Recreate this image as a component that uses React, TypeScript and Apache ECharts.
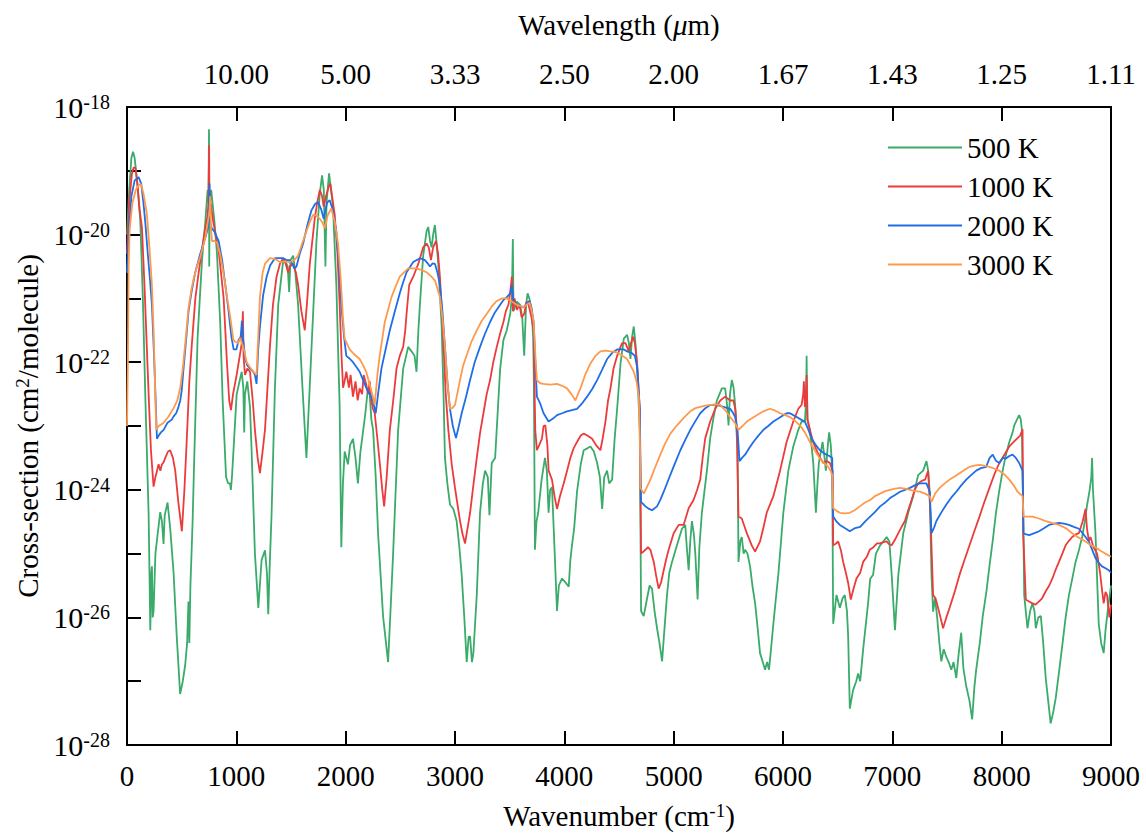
import React, { useEffect, useRef } from "react";
import * as echarts from "echarts";

// Series names and colours
const seriesNames = ["500 K", "1000 K", "2000 K", "3000 K"];
const seriesColors = ["#3aab6a", "#ec3b3b", "#1f6ee6", "#ff9a4d"];

// Top axis: wavelength (µm) labels at wavenumber positions
const topTickWavenumbers = [1000, 2000, 3000, 4000, 5000, 6000, 7000, 8000, 9000];
const topTickLabels = ["10.00", "5.00", "3.33", "2.50", "2.00", "1.67", "1.43", "1.25", "1.11"];

// y range as exponents of 10 (cm2/molecule); labelled every second decade
const yExpMin = -28;
const yExpMax = -18;

// Data: [wavenumber (cm-1), log10 cross-section (cm2/molecule)]
const k500: number[][] = [
  [0,-20.0],[20,-19.3],[40,-18.8],[55,-18.7],[70,-18.8],[95,-19.2],[122,-19.8],[145,-21.0],[167,-22.5],[185,-23.6],[198,-24.4],[213,-26.2],[222,-25.3],[228,-25.2],[235,-26.0],[243,-25.9],[260,-25.0],[280,-24.7],[304,-24.35],[320,-24.5],[334,-24.85],[345,-24.4],[371,-24.2],[395,-24.6],[426,-25.3],[455,-26.3],[486,-27.2],[510,-27.0],[532,-26.75],[550,-26.4],[562,-25.75],[570,-26.4],[580,-25.5],[600,-24.5],[615,-23.5],[646,-21.6],[686,-20.4],[716,-19.8],[737,-19.3],[745,-19.5],[750,-18.35],[752,-20.5],[756,-19.6],[770,-19.3],[785,-19.55],[800,-19.8],[823,-20.3],[853,-21.4],[875,-22.6],[906,-23.8],[925,-23.9],[942,-23.9],[950,-24.0],[960,-23.8],[1003,-22.5],[1049,-22.15],[1064,-22.4],[1072,-23.1],[1079,-22.5],[1100,-22.3],[1125,-22.7],[1140,-23.4],[1170,-25.0],[1201,-25.85],[1231,-25.1],[1262,-24.95],[1280,-25.3],[1292,-25.95],[1305,-25.2],[1322,-24.4],[1353,-22.4],[1383,-21.1],[1429,-20.4],[1459,-20.46],[1470,-20.5],[1483,-20.9],[1495,-20.4],[1520,-20.33],[1540,-20.6],[1565,-21.1],[1605,-22.4],[1641,-23.5],[1660,-22.8],[1687,-21.8],[1733,-20.1],[1763,-19.36],[1784,-19.07],[1800,-19.3],[1815,-20.5],[1825,-19.5],[1848,-19.04],[1884,-19.56],[1915,-20.8],[1945,-22.7],[1960,-24.9],[1975,-23.9],[1991,-23.4],[2021,-23.6],[2040,-23.3],[2067,-23.2],[2090,-23.5],[2112,-23.9],[2135,-23.4],[2158,-23.1],[2180,-22.8],[2204,-22.4],[2220,-22.5],[2235,-22.9],[2251,-23.06],[2275,-23.8],[2297,-24.7],[2342,-25.98],[2388,-26.7],[2410,-25.9],[2434,-25.0],[2480,-23.06],[2526,-22.1],[2572,-21.76],[2602,-21.83],[2630,-21.9],[2648,-22.15],[2665,-21.5],[2679,-21.1],[2709,-20.33],[2740,-19.95],[2755,-19.88],[2772,-20.1],[2786,-20.2],[2800,-20.0],[2816,-19.85],[2830,-20.1],[2847,-20.46],[2878,-21.44],[2895,-22.5],[2908,-23.5],[2930,-23.9],[2954,-24.23],[2985,-24.3],[3015,-24.49],[3040,-24.9],[3061,-25.33],[3085,-26.0],[3107,-26.7],[3125,-26.3],[3138,-26.3],[3155,-26.7],[3168,-26.56],[3199,-25.65],[3229,-24.36],[3255,-23.9],[3275,-23.7],[3300,-23.8],[3315,-24.4],[3336,-23.58],[3367,-23.5],[3390,-22.8],[3413,-22.1],[3443,-21.65],[3474,-21.5],[3505,-21.24],[3520,-21.0],[3529,-20.07],[3535,-21.2],[3566,-21.05],[3596,-21.1],[3615,-21.3],[3633,-21.9],[3650,-21.1],[3664,-20.92],[3680,-21.0],[3700,-21.18],[3715,-21.6],[3722,-22.41],[3731,-24.94],[3745,-24.5],[3761,-24.36],[3792,-23.84],[3823,-23.5],[3840,-23.7],[3856,-24.36],[3870,-24.0],[3887,-23.96],[3905,-24.7],[3933,-25.9],[3950,-25.5],[3979,-25.39],[4010,-25.45],[4040,-25.52],[4055,-25.1],[4070,-24.87],[4090,-24.6],[4116,-24.03],[4150,-23.6],[4177,-23.38],[4210,-23.35],[4239,-23.32],[4270,-23.4],[4300,-23.58],[4325,-23.8],[4346,-24.3],[4365,-23.8],[4391,-23.7],[4410,-23.9],[4437,-23.84],[4460,-23.2],[4483,-22.73],[4514,-22.02],[4544,-21.63],[4574,-21.57],[4590,-21.7],[4605,-21.95],[4620,-21.6],[4635,-21.44],[4650,-21.7],[4666,-22.08],[4690,-23.06],[4702,-25.9],[4726,-25.98],[4757,-25.7],[4780,-25.5],[4802,-25.55],[4825,-25.9],[4848,-26.17],[4870,-26.4],[4894,-26.69],[4915,-26.2],[4939,-25.65],[4960,-25.3],[4985,-25.13],[5030,-24.87],[5076,-24.61],[5106,-24.55],[5120,-24.9],[5137,-25.26],[5152,-24.8],[5167,-24.49],[5185,-24.7],[5198,-25.0],[5219,-25.72],[5235,-24.9],[5258,-24.36],[5304,-23.7],[5334,-23.19],[5365,-22.86],[5395,-22.6],[5410,-22.54],[5441,-22.41],[5471,-22.41],[5490,-22.7],[5502,-22.99],[5515,-22.5],[5532,-22.28],[5548,-22.4],[5562,-22.67],[5584,-23.38],[5593,-25.13],[5610,-24.8],[5623,-24.74],[5640,-25.0],[5653,-24.94],[5675,-25.0],[5699,-25.2],[5720,-25.5],[5745,-25.78],[5770,-26.2],[5790,-26.56],[5815,-26.7],[5836,-26.82],[5855,-26.7],[5872,-26.82],[5890,-26.5],[5912,-26.1],[5935,-25.7],[5957,-25.33],[5980,-24.85],[6003,-24.36],[6049,-23.7],[6094,-23.32],[6140,-23.06],[6170,-22.93],[6200,-22.93],[6212,-22.6],[6216,-21.9],[6222,-22.9],[6246,-23.06],[6277,-23.58],[6301,-24.36],[6315,-23.9],[6328,-23.58],[6362,-23.25],[6380,-23.5],[6392,-23.7],[6410,-23.3],[6422,-23.1],[6437,-23.3],[6450,-23.7],[6459,-26.1],[6489,-25.65],[6520,-25.85],[6545,-25.7],[6565,-25.65],[6585,-25.9],[6596,-26.3],[6611,-27.43],[6641,-27.14],[6670,-27.0],[6687,-26.88],[6706,-27.0],[6733,-26.5],[6778,-25.78],[6797,-25.4],[6824,-25.33],[6850,-25.0],[6888,-24.87],[6918,-24.81],[6948,-24.74],[6973,-24.81],[6994,-25.33],[7024,-26.2],[7055,-25.33],[7100,-24.68],[7145,-24.36],[7191,-24.1],[7236,-23.77],[7282,-23.7],[7312,-23.55],[7328,-23.7],[7342,-24.03],[7358,-25.33],[7373,-25.91],[7390,-25.7],[7409,-25.98],[7430,-26.4],[7448,-26.69],[7470,-26.5],[7494,-26.62],[7515,-26.7],[7539,-26.82],[7560,-26.7],[7585,-26.95],[7605,-26.6],[7630,-26.24],[7650,-26.8],[7676,-27.08],[7705,-27.3],[7730,-27.6],[7750,-27.1],[7767,-26.82],[7800,-26.4],[7827,-25.98],[7860,-25.6],[7888,-25.2],[7918,-24.8],[7948,-24.36],[7979,-24.0],[8009,-23.7],[8039,-23.45],[8070,-23.25],[8100,-23.1],[8115,-22.99],[8140,-22.9],[8160,-22.83],[8175,-22.9],[8185,-23.06],[8197,-24.36],[8206,-25.65],[8236,-26.17],[8260,-25.9],[8282,-25.78],[8300,-25.9],[8312,-26.17],[8335,-26.0],[8358,-25.98],[8380,-26.4],[8403,-26.95],[8425,-27.3],[8448,-27.66],[8470,-27.5],[8494,-27.27],[8525,-26.85],[8555,-26.43],[8585,-26.0],[8615,-25.65],[8645,-25.4],[8676,-25.13],[8706,-24.95],[8736,-24.74],[8760,-24.5],[8782,-24.23],[8805,-24.0],[8820,-23.8],[8827,-23.5],[8835,-24.0],[8858,-24.68],[8875,-25.5],[8888,-26.1],[8910,-26.4],[8933,-26.56],[8950,-26.2],[8973,-25.85],[9000,-25.5]
];

const k1000: number[][] = [
  [0,-20.3],[20,-19.5],[45,-19.05],[60,-18.95],[76,-18.95],[95,-19.2],[115,-19.6],[137,-19.9],[160,-20.8],[182,-21.8],[200,-22.6],[219,-23.38],[243,-23.95],[260,-23.8],[275,-23.7],[289,-23.6],[305,-23.7],[320,-23.6],[334,-23.57],[350,-23.5],[375,-23.4],[395,-23.38],[420,-23.5],[441,-23.7],[470,-24.2],[502,-24.65],[525,-24.0],[547,-23.2],[570,-22.3],[594,-21.7],[625,-21.0],[655,-20.6],[701,-20.05],[737,-19.7],[745,-19.5],[751,-18.6],[755,-19.8],[765,-19.5],[784,-19.75],[800,-19.9],[838,-20.25],[866,-20.7],[884,-21.0],[914,-22.0],[935,-22.6],[951,-22.75],[970,-22.5],[1003,-22.2],[1036,-21.85],[1050,-21.7],[1060,-21.2],[1066,-21.9],[1079,-22.2],[1100,-22.1],[1125,-22.15],[1150,-22.6],[1170,-23.06],[1195,-23.5],[1216,-23.74],[1240,-23.4],[1262,-23.06],[1285,-22.4],[1307,-21.76],[1335,-21.1],[1368,-20.66],[1400,-20.45],[1429,-20.37],[1450,-20.45],[1474,-20.6],[1490,-20.5],[1520,-20.46],[1545,-20.6],[1565,-20.79],[1595,-21.2],[1626,-21.5],[1645,-21.1],[1672,-20.46],[1717,-19.75],[1740,-19.5],[1763,-19.3],[1785,-19.4],[1799,-19.56],[1820,-19.4],[1845,-19.25],[1860,-19.2],[1880,-19.45],[1900,-19.69],[1925,-20.3],[1945,-21.1],[1962,-21.9],[1976,-22.4],[1990,-22.3],[2006,-22.15],[2030,-22.4],[2045,-22.2],[2067,-22.54],[2090,-22.3],[2110,-22.6],[2128,-22.41],[2150,-22.5],[2165,-22.2],[2188,-22.35],[2205,-22.5],[2220,-22.3],[2235,-22.6],[2249,-22.73],[2266,-22.8],[2290,-23.2],[2312,-23.58],[2335,-24.0],[2352,-24.26],[2375,-23.8],[2404,-23.06],[2435,-22.6],[2465,-22.1],[2495,-21.9],[2526,-21.76],[2545,-21.5],[2557,-21.24],[2581,-20.79],[2618,-20.66],[2664,-20.46],[2709,-20.2],[2740,-20.14],[2760,-20.2],[2780,-20.4],[2800,-20.2],[2826,-20.1],[2845,-20.3],[2862,-20.66],[2893,-21.63],[2915,-22.5],[2939,-23.06],[2970,-23.6],[3000,-23.97],[3046,-24.49],[3070,-24.7],[3092,-24.84],[3115,-24.6],[3138,-24.36],[3170,-23.9],[3199,-23.5],[3230,-23.1],[3260,-22.8],[3290,-22.5],[3321,-22.28],[3350,-22.0],[3382,-21.76],[3413,-21.55],[3443,-21.37],[3465,-21.2],[3489,-21.1],[3505,-20.9],[3520,-20.66],[3530,-21.2],[3545,-21.0],[3566,-21.18],[3590,-21.1],[3610,-21.3],[3633,-21.24],[3655,-21.05],[3673,-21.1],[3700,-21.3],[3719,-21.5],[3734,-23.06],[3749,-23.38],[3770,-23.3],[3795,-23.2],[3810,-23.0],[3826,-22.99],[3845,-23.3],[3856,-23.7],[3887,-23.84],[3910,-24.1],[3933,-24.3],[3960,-24.1],[3994,-23.9],[4025,-23.7],[4055,-23.5],[4085,-23.35],[4116,-23.25],[4150,-23.15],[4177,-23.12],[4210,-23.15],[4254,-23.2],[4290,-23.3],[4330,-23.38],[4350,-23.2],[4376,-22.93],[4400,-22.6],[4422,-22.41],[4450,-22.1],[4483,-21.9],[4514,-21.76],[4529,-21.7],[4559,-21.7],[4590,-21.83],[4610,-21.7],[4629,-21.6],[4645,-21.7],[4666,-22.02],[4690,-22.73],[4702,-25.0],[4742,-24.94],[4765,-24.9],[4787,-24.94],[4818,-25.13],[4840,-25.35],[4863,-25.55],[4885,-25.45],[4909,-25.26],[4930,-25.1],[4954,-24.94],[5000,-24.68],[5046,-24.55],[5091,-24.55],[5137,-24.29],[5182,-24.16],[5215,-24.0],[5243,-23.84],[5265,-23.5],[5289,-23.19],[5334,-22.93],[5380,-22.73],[5426,-22.6],[5471,-22.54],[5517,-22.6],[5547,-22.6],[5565,-22.75],[5578,-23.06],[5593,-24.42],[5623,-24.45],[5669,-24.68],[5714,-24.87],[5745,-24.97],[5790,-24.81],[5820,-24.6],[5851,-24.36],[5912,-24.1],[5973,-23.7],[6033,-23.25],[6094,-22.93],[6140,-22.73],[6170,-22.67],[6185,-22.5],[6191,-22.3],[6200,-22.7],[6210,-22.5],[6216,-22.2],[6225,-22.9],[6246,-23.06],[6275,-23.25],[6307,-23.38],[6340,-23.5],[6368,-23.58],[6400,-23.55],[6429,-23.58],[6453,-23.7],[6459,-24.87],[6480,-24.85],[6505,-24.81],[6530,-24.95],[6550,-25.13],[6575,-25.3],[6596,-25.46],[6620,-25.72],[6645,-25.55],[6672,-25.39],[6706,-25.3],[6733,-25.13],[6767,-25.05],[6793,-24.94],[6827,-24.9],[6860,-24.84],[6888,-24.84],[6918,-24.82],[6948,-24.81],[6970,-24.85],[6994,-24.87],[7025,-24.78],[7055,-24.68],[7085,-24.58],[7115,-24.49],[7145,-24.32],[7176,-24.16],[7205,-24.0],[7236,-23.9],[7268,-23.86],[7300,-23.84],[7327,-23.7],[7348,-24.36],[7373,-25.65],[7395,-25.7],[7418,-25.85],[7440,-26.0],[7464,-26.17],[7494,-26.0],[7524,-25.85],[7570,-25.6],[7615,-25.33],[7660,-25.1],[7706,-24.87],[7750,-24.65],[7797,-24.42],[7840,-24.2],[7888,-23.97],[7935,-23.75],[7979,-23.58],[8025,-23.45],[8070,-23.32],[8110,-23.25],[8145,-23.19],[8170,-23.15],[8191,-23.05],[8197,-24.68],[8221,-25.72],[8250,-25.75],[8282,-25.78],[8310,-25.8],[8342,-25.75],[8370,-25.7],[8403,-25.59],[8435,-25.5],[8464,-25.39],[8494,-25.25],[8524,-25.13],[8555,-25.0],[8585,-24.87],[8615,-24.8],[8645,-24.74],[8676,-24.7],[8706,-24.68],[8740,-24.5],[8767,-24.3],[8780,-24.6],[8797,-24.8],[8812,-24.74],[8840,-24.9],[8873,-25.0],[8900,-25.3],[8920,-25.6],[8933,-25.78],[8950,-25.6],[8964,-25.65],[8985,-26.0],[9000,-25.8]
];

const k2000: number[][] = [
  [0,-20.6],[15,-20.0],[40,-19.4],[70,-19.15],[106,-19.1],[130,-19.2],[150,-19.5],[167,-19.8],[190,-20.3],[210,-20.7],[228,-21.1],[245,-21.8],[258,-22.4],[268,-22.9],[274,-23.2],[290,-23.15],[310,-23.1],[335,-23.06],[370,-22.95],[410,-22.9],[426,-22.85],[450,-22.8],[471,-22.7],[487,-22.6],[500,-22.45],[517,-22.1],[533,-21.8],[563,-21.2],[590,-20.9],[623,-20.6],[670,-20.3],[716,-20.05],[740,-19.9],[750,-19.6],[755,-19.2],[760,-19.8],[775,-19.9],[798,-19.95],[838,-20.1],[870,-20.4],[900,-20.8],[929,-21.2],[955,-21.6],[975,-21.8],[1000,-21.8],[1021,-21.65],[1040,-21.6],[1051,-21.35],[1060,-21.6],[1082,-21.95],[1100,-22.05],[1125,-22.1],[1155,-22.15],[1170,-22.2],[1185,-22.34],[1200,-21.8],[1216,-21.44],[1245,-20.95],[1277,-20.66],[1310,-20.48],[1353,-20.37],[1390,-20.37],[1429,-20.37],[1460,-20.4],[1489,-20.4],[1510,-20.45],[1530,-20.53],[1550,-20.5],[1580,-20.3],[1611,-20.14],[1650,-19.85],[1687,-19.62],[1720,-19.52],[1748,-19.49],[1775,-19.6],[1799,-19.75],[1830,-19.5],[1854,-19.46],[1880,-19.6],[1915,-19.95],[1940,-20.5],[1960,-21.1],[1985,-21.6],[2006,-21.9],[2040,-21.95],[2067,-22.0],[2100,-22.08],[2128,-22.15],[2160,-22.28],[2188,-22.4],[2220,-22.5],[2249,-22.6],[2275,-22.8],[2300,-22.45],[2327,-22.1],[2365,-21.8],[2404,-21.5],[2450,-21.2],[2495,-20.92],[2525,-20.75],[2557,-20.59],[2618,-20.43],[2679,-20.37],[2725,-20.4],[2750,-20.45],[2771,-20.5],[2795,-20.45],[2817,-20.46],[2840,-20.6],[2862,-20.79],[2885,-21.2],[2908,-21.76],[2930,-22.3],[2954,-22.73],[2980,-23.0],[3009,-23.19],[3035,-23.0],[3061,-22.8],[3100,-22.55],[3138,-22.28],[3180,-22.0],[3229,-21.76],[3275,-21.55],[3321,-21.37],[3365,-21.22],[3413,-21.1],[3445,-21.02],[3474,-20.98],[3505,-20.92],[3520,-20.8],[3535,-21.05],[3566,-21.1],[3600,-21.12],[3627,-21.14],[3655,-21.08],[3682,-21.04],[3700,-21.15],[3719,-21.37],[3735,-22.0],[3749,-22.54],[3780,-22.65],[3810,-22.8],[3856,-22.93],[3900,-22.88],[3933,-22.83],[3980,-22.8],[4024,-22.77],[4070,-22.75],[4116,-22.73],[4160,-22.65],[4208,-22.54],[4255,-22.42],[4300,-22.28],[4345,-22.12],[4391,-21.95],[4440,-21.85],[4483,-21.8],[4514,-21.8],[4544,-21.8],[4574,-21.83],[4620,-21.86],[4645,-21.9],[4666,-22.08],[4690,-22.73],[4698,-23.8],[4702,-24.19],[4742,-24.26],[4775,-24.3],[4802,-24.32],[4848,-24.26],[4880,-24.15],[4909,-24.03],[4950,-23.85],[4985,-23.7],[5020,-23.55],[5061,-23.38],[5105,-23.22],[5152,-23.06],[5200,-22.92],[5243,-22.8],[5290,-22.72],[5334,-22.67],[5395,-22.67],[5456,-22.7],[5517,-22.73],[5545,-22.8],[5562,-22.86],[5584,-23.06],[5602,-23.55],[5625,-23.5],[5653,-23.45],[5690,-23.35],[5729,-23.25],[5775,-23.15],[5821,-23.06],[5865,-23.0],[5912,-22.93],[5960,-22.88],[6003,-22.83],[6035,-22.8],[6064,-22.8],[6095,-22.83],[6125,-22.86],[6165,-22.9],[6200,-22.93],[6230,-23.05],[6261,-23.19],[6300,-23.3],[6337,-23.38],[6370,-23.42],[6398,-23.45],[6425,-23.47],[6450,-23.5],[6459,-24.42],[6490,-24.5],[6520,-24.55],[6565,-24.6],[6611,-24.65],[6660,-24.6],[6706,-24.58],[6750,-24.5],[6797,-24.42],[6840,-24.35],[6888,-24.26],[6935,-24.2],[6979,-24.13],[7025,-24.08],[7070,-24.03],[7115,-24.0],[7161,-23.97],[7205,-23.93],[7252,-23.9],[7285,-23.9],[7312,-23.9],[7342,-24.03],[7358,-24.68],[7380,-24.6],[7403,-24.49],[7450,-24.35],[7494,-24.23],[7540,-24.12],[7585,-24.03],[7630,-23.93],[7676,-23.84],[7720,-23.77],[7767,-23.7],[7810,-23.66],[7858,-23.64],[7890,-23.5],[7918,-23.45],[7950,-23.55],[7979,-23.58],[8010,-23.5],[8039,-23.51],[8070,-23.47],[8100,-23.45],[8130,-23.5],[8160,-23.58],[8191,-23.7],[8200,-24.68],[8225,-24.7],[8252,-24.71],[8300,-24.68],[8342,-24.65],[8390,-24.6],[8433,-24.55],[8480,-24.53],[8524,-24.52],[8570,-24.53],[8615,-24.55],[8660,-24.58],[8706,-24.61],[8750,-24.7],[8797,-24.81],[8830,-24.95],[8858,-25.07],[8890,-25.15],[8918,-25.2],[8950,-25.23],[8979,-25.26],[9000,-25.3]
];

const k3000: number[][] = [
  [0,-23.0],[8,-22.0],[15,-20.5],[25,-19.9],[50,-19.5],[80,-19.3],[110,-19.22],[128,-19.21],[150,-19.35],[182,-19.68],[205,-20.2],[228,-20.79],[245,-21.6],[260,-22.6],[268,-23.06],[290,-23.0],[335,-22.95],[380,-22.85],[426,-22.72],[460,-22.6],[487,-22.4],[510,-22.1],[533,-21.7],[563,-21.15],[590,-20.85],[609,-20.7],[640,-20.5],[670,-20.35],[716,-20.05],[746,-19.73],[755,-19.6],[761,-19.4],[768,-19.9],[777,-20.1],[800,-20.1],[823,-20.12],[851,-20.3],[884,-20.62],[912,-20.95],[945,-21.3],[973,-21.65],[990,-21.68],[1018,-21.7],[1036,-21.62],[1050,-21.7],[1064,-21.76],[1082,-21.9],[1094,-22.0],[1125,-22.08],[1155,-22.15],[1185,-22.2],[1200,-21.6],[1216,-20.98],[1240,-20.6],[1262,-20.46],[1307,-20.37],[1350,-20.38],[1398,-20.43],[1440,-20.42],[1489,-20.43],[1530,-20.4],[1565,-20.33],[1600,-20.15],[1641,-19.95],[1672,-19.8],[1702,-19.69],[1730,-19.7],[1763,-19.75],[1790,-19.82],[1809,-19.9],[1835,-19.7],[1869,-19.59],[1900,-19.8],[1930,-20.14],[1955,-20.7],[1975,-21.3],[1991,-21.63],[2036,-21.8],[2080,-21.88],[2128,-21.95],[2160,-22.05],[2188,-22.15],[2220,-22.35],[2249,-22.54],[2266,-22.67],[2290,-22.2],[2312,-21.89],[2358,-21.37],[2419,-20.98],[2460,-20.8],[2495,-20.66],[2540,-20.58],[2572,-20.53],[2648,-20.53],[2700,-20.56],[2740,-20.59],[2780,-20.65],[2817,-20.72],[2840,-20.85],[2862,-20.98],[2885,-21.3],[2908,-21.76],[2930,-22.3],[2954,-22.73],[2975,-22.72],[3000,-22.67],[3020,-22.5],[3046,-22.28],[3075,-22.05],[3107,-21.89],[3150,-21.68],[3199,-21.5],[3245,-21.35],[3291,-21.24],[3335,-21.13],[3382,-21.04],[3430,-21.0],[3474,-21.0],[3520,-21.05],[3566,-21.1],[3600,-21.12],[3627,-21.14],[3655,-21.1],[3682,-21.07],[3700,-21.18],[3719,-21.37],[3735,-21.9],[3749,-22.28],[3780,-22.33],[3810,-22.34],[3870,-22.35],[3933,-22.34],[3980,-22.37],[4024,-22.41],[4065,-22.5],[4101,-22.6],[4125,-22.5],[4147,-22.41],[4190,-22.2],[4239,-22.02],[4285,-21.9],[4330,-21.83],[4380,-21.82],[4422,-21.83],[4470,-21.84],[4514,-21.88],[4574,-21.95],[4605,-22.05],[4635,-22.15],[4660,-22.3],[4681,-22.54],[4692,-23.3],[4696,-23.97],[4727,-24.06],[4757,-23.95],[4787,-23.84],[4830,-23.65],[4878,-23.45],[4920,-23.28],[4970,-23.12],[5015,-23.02],[5061,-22.93],[5105,-22.85],[5152,-22.77],[5200,-22.72],[5243,-22.7],[5290,-22.68],[5334,-22.67],[5380,-22.66],[5426,-22.67],[5470,-22.75],[5517,-22.86],[5560,-22.95],[5593,-23.06],[5630,-23.0],[5669,-22.93],[5715,-22.88],[5760,-22.83],[5820,-22.77],[5881,-22.73],[5930,-22.76],[5973,-22.8],[6020,-22.83],[6064,-22.86],[6110,-22.92],[6155,-22.99],[6200,-23.1],[6246,-23.25],[6290,-23.38],[6337,-23.51],[6375,-23.58],[6413,-23.64],[6435,-23.7],[6450,-23.77],[6459,-24.29],[6490,-24.33],[6520,-24.36],[6565,-24.37],[6611,-24.36],[6655,-24.32],[6702,-24.26],[6750,-24.2],[6797,-24.16],[6840,-24.1],[6888,-24.06],[6935,-24.02],[6979,-24.0],[7025,-23.98],[7070,-23.97],[7115,-23.98],[7161,-24.0],[7205,-24.02],[7252,-24.03],[7300,-24.06],[7342,-24.1],[7358,-24.19],[7395,-24.05],[7433,-23.97],[7480,-23.9],[7524,-23.84],[7570,-23.79],[7615,-23.74],[7660,-23.69],[7706,-23.64],[7750,-23.62],[7797,-23.61],[7840,-23.62],[7888,-23.64],[7935,-23.67],[7979,-23.7],[8025,-23.76],[8070,-23.84],[8110,-23.93],[8145,-24.03],[8170,-24.07],[8191,-24.1],[8200,-24.42],[8240,-24.42],[8282,-24.42],[8340,-24.45],[8403,-24.49],[8460,-24.52],[8524,-24.55],[8585,-24.6],[8645,-24.68],[8706,-24.75],[8767,-24.81],[8810,-24.86],[8858,-24.9],[8900,-24.95],[8948,-25.0],[9000,-25.05]
];

const seriesData = [k500, k1000, k2000, k3000];

const FONT = "'Liberation Serif', 'Times New Roman', 'DejaVu Serif', serif";

export default function App() {
  const ref = useRef<HTMLDivElement>(null);

  useEffect(() => {
    if (!ref.current) return;
    const chart = echarts.init(ref.current, null, { renderer: "svg" });
    const axisLineStyle = { color: "#000", width: 2 };
    const supRich = {
      s: { fontSize: 19, fontFamily: FONT, color: "#000", verticalAlign: "top", lineHeight: 19 },
      i: { fontSize: 29, fontFamily: FONT, color: "#000", fontStyle: "italic" },
    };
    chart.setOption({
      animation: false,
      backgroundColor: "#fff",
      textStyle: { fontFamily: FONT, color: "#000" },
      grid: {
        left: 127, right: 35, top: 107, bottom: 88,
        show: true, borderColor: "#000", borderWidth: 2, containLabel: false,
      },
      legend: {
        orient: "vertical",
        left: 883,
        top: 128,
        icon: "rect",
        itemWidth: 74,
        itemHeight: 2,
        itemGap: 10,
        textStyle: { fontSize: 29, fontFamily: FONT, color: "#000" },
        data: seriesNames,
      },
      xAxis: [
        {
          type: "value", position: "bottom", min: 0, max: 9000, interval: 1000,
          axisLine: { show: true, lineStyle: axisLineStyle },
          axisTick: { show: true, inside: true, length: 14, lineStyle: axisLineStyle },
          splitLine: { show: false },
          axisLabel: {
            fontSize: 29, fontFamily: FONT, color: "#000", margin: 16,
            formatter: (v: number) => String(v),
          },
          name: "Wavenumber (cm{s|-1})",
          nameLocation: "middle",
          nameGap: 56,
          nameTextStyle: { fontSize: 29, fontFamily: FONT, color: "#000", rich: supRich },
        },
        {
          type: "value", position: "top", min: 0, max: 9000, interval: 1000,
          axisLine: { show: true, lineStyle: axisLineStyle },
          axisTick: { show: true, inside: true, length: 14, lineStyle: axisLineStyle },
          splitLine: { show: false },
          axisLabel: {
            fontSize: 29, fontFamily: FONT, color: "#000", margin: 19,
            formatter: (v: number) => {
              const i = topTickWavenumbers.indexOf(Math.round(v));
              return i >= 0 ? topTickLabels[i] : "";
            },
          },
          name: "Wavelength ({i|μ}m)",
          nameLocation: "middle",
          nameGap: 68,
          nameTextStyle: { fontSize: 29, fontFamily: FONT, color: "#000", rich: supRich },
        },
      ],
      yAxis: [
        {
          // decades of the cross-section (log scale)
          type: "value", min: yExpMin, max: yExpMax, interval: 1,
          axisLine: { show: true, lineStyle: axisLineStyle },
          axisTick: { show: true, inside: true, length: 14, lineStyle: axisLineStyle },
          splitLine: { show: false },
          axisLabel: {
            margin: 17,
            formatter: (v: number) => {
              const e = Math.round(v);
              return e % 2 === 0 ? `{b|10}{s|${e}}` : "";
            },
            rich: {
              b: { fontSize: 30, fontFamily: FONT, color: "#000" },
              s: { fontSize: 20, fontFamily: FONT, color: "#000", verticalAlign: "top", lineHeight: 19 },
            },
          },
          name: "Cross-section (cm{s|2}/molecule)",
          nameLocation: "middle",
          nameGap: 85,
          nameRotate: 90,
          nameTextStyle: { fontSize: 29, fontFamily: FONT, color: "#000", rich: supRich },
        },
      ],
      series: seriesNames.map((name, idx) => ({
        name,
        type: "line",
        xAxisIndex: 0,
        yAxisIndex: 0,
        symbol: "none",
        showSymbol: false,
        smooth: false,
        lineStyle: { color: seriesColors[idx], width: 1.8 },
        itemStyle: { color: seriesColors[idx] },
        data: seriesData[idx],
      })),
    });
    return () => chart.dispose();
  }, []);

  return (
    <div
      ref={ref}
      style={{ position: "fixed", left: 0, top: 0, width: 1146, height: 835, background: "#fff" }}
    />
  );
}
